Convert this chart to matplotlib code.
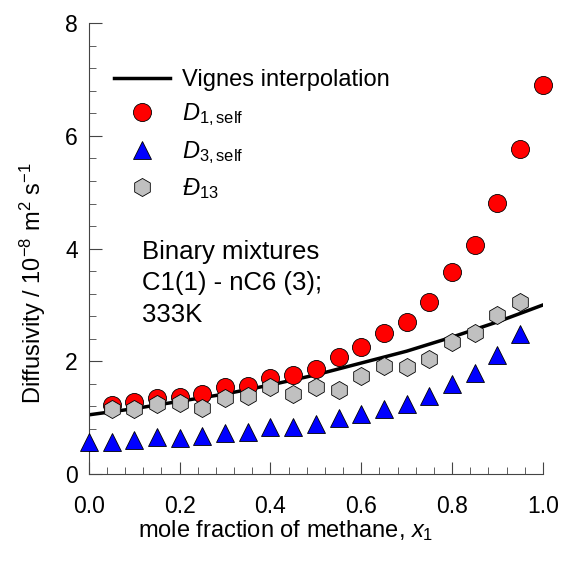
import matplotlib
matplotlib.use("Agg")
import matplotlib.pyplot as plt
from matplotlib.ticker import MultipleLocator, FormatStrFormatter

plt.rcParams['font.family'] = ['Liberation Sans', 'DejaVu Sans']
plt.rcParams['mathtext.fontset'] = 'custom'
plt.rcParams['mathtext.rm'] = 'Liberation Sans'
plt.rcParams['mathtext.it'] = 'Liberation Sans:italic'

# mole fraction of methane
x_d1 = [0.05, 0.10, 0.15, 0.20, 0.25, 0.30, 0.35, 0.40, 0.45, 0.50,
        0.55, 0.60, 0.65, 0.70, 0.75, 0.80, 0.85, 0.90, 0.95, 1.00]
d1_self = [1.22, 1.28, 1.35, 1.36, 1.42, 1.54, 1.56, 1.71, 1.76, 1.86,
           2.08, 2.26, 2.51, 2.70, 3.06, 3.59, 4.06, 4.81, 5.77, 6.90]

x_d3 = [0.00, 0.05, 0.10, 0.15, 0.20, 0.25, 0.30, 0.35, 0.40, 0.45,
        0.50, 0.55, 0.60, 0.65, 0.70, 0.75, 0.80, 0.85, 0.90, 0.95]
d3_self = [0.56, 0.57, 0.61, 0.66, 0.64, 0.67, 0.73, 0.75, 0.83, 0.84,
           0.88, 0.99, 1.06, 1.15, 1.24, 1.39, 1.59, 1.79, 2.11, 2.49]

x_d13 = [0.05, 0.10, 0.15, 0.20, 0.25, 0.30, 0.35, 0.40, 0.45, 0.50,
         0.55, 0.60, 0.65, 0.70, 0.75, 0.80, 0.85, 0.90, 0.95]
d13 = [1.16, 1.16, 1.25, 1.26, 1.18, 1.35, 1.38, 1.54, 1.42, 1.54,
       1.49, 1.74, 1.91, 1.90, 2.05, 2.35, 2.51, 2.82, 3.06]

x_vig = [0.0, 0.1, 0.2, 0.3, 0.4, 0.5, 0.6, 0.7, 0.8, 0.9, 1.0]
d_vig = [1.05, 1.16, 1.29, 1.42, 1.58, 1.76, 1.97, 2.18, 2.43, 2.70, 3.00]

fig = plt.figure(figsize=(5.62, 5.67), dpi=100)
ax = fig.add_axes([0.158, 0.164, 0.808, 0.795])

ax.plot(x_vig, d_vig, color='black', lw=2.5, label='Vignes interpolation', zorder=2)
ax.plot(x_d1, d1_self, 'o', ms=13, mfc='red', mec='black', mew=0.6,
        label=r'$\mathit{D}_{\mathrm{1,self}}$', clip_on=False, zorder=3)
ax.plot(x_d3, d3_self, '^', ms=13, mfc='blue', mec='black', mew=0.6,
        label=r'$\mathit{D}_{\mathrm{3,self}}$', clip_on=False, zorder=3)
ax.plot(x_d13, d13, 'h', ms=13, mfc='#c0c0c0', mec='black', mew=0.6,
        label=r'$\mathit{Đ}_{\mathrm{13}}$', clip_on=False, zorder=4)

ax.set_xlim(0, 1.0)
ax.set_ylim(0, 8)
ax.xaxis.set_major_locator(MultipleLocator(0.2))
ax.xaxis.set_minor_locator(MultipleLocator(0.04))
ax.yaxis.set_major_locator(MultipleLocator(2))
ax.yaxis.set_minor_locator(MultipleLocator(0.4))
ax.xaxis.set_major_formatter(FormatStrFormatter('%.1f'))
ax.tick_params(which='both', direction='in', labelsize=16.5, color='#444444')
ax.tick_params(which='major', length=9)
ax.tick_params(which='minor', length=5)
ax.tick_params(axis='x', which='major', pad=15)
ax.tick_params(axis='y', which='major', pad=8)
for s in ['top', 'right']:
    ax.spines[s].set_visible(False)
for s in ['left', 'bottom']:
    ax.spines[s].set_color('#444444')

ax.set_xlabel(r'mole fraction of methane, $\mathit{x}_{\mathrm{1}}$', fontsize=17,
              labelpad=0, x=0.434)
ax.set_ylabel(r'Diffusivity / 10$^{\mathrm{-8}}$ m$^{\mathrm{2}}$ s$^{\mathrm{-1}}$', fontsize=17,
              labelpad=12, y=0.424)

ax.text(0.117, 4.16, 'Binary mixtures\nC1(1) - nC6 (3);\n333K', fontsize=18.5,
        va='top', ha='left', linespacing=1.4)

ax.legend(loc='upper left', bbox_to_anchor=(0.008, 0.946), frameon=False, fontsize=17,
          handlelength=2.4, handletextpad=0.5, labelspacing=0.45, numpoints=1)

fig.savefig('out.png', dpi=100)
